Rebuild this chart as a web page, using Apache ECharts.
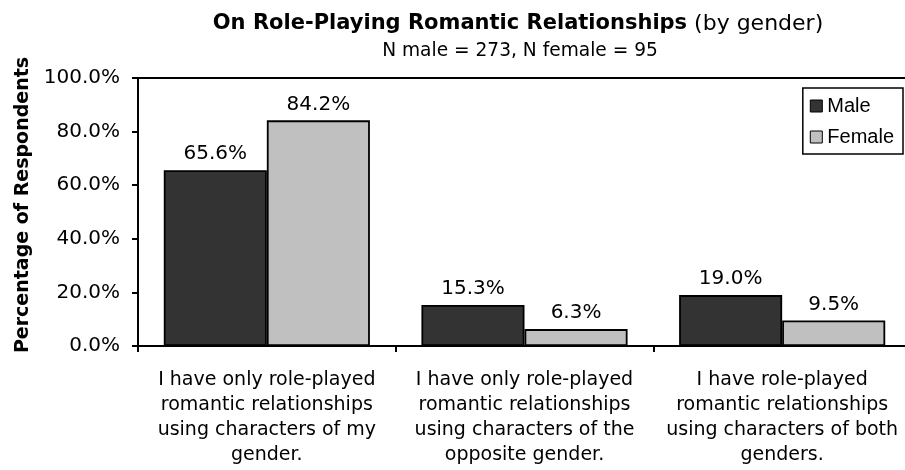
<!DOCTYPE html>
<html>
<head>
<meta charset="utf-8">
<script src="https://cdn.jsdelivr.net/npm/echarts@6/dist/echarts.min.js"></script>
<style>
  html, body { margin: 0; padding: 0; background: #fff; }
  #chart { width: 905px; height: 470px; }
</style>
</head>
<body>
<div id="chart"></div>
<script>
// Survey answers, grouped by gender
const categories = [
  'I have only role-played\nromantic relationships\nusing characters of my\ngender.',
  'I have only role-played\nromantic relationships\nusing characters of the\nopposite gender.',
  'I have role-played\nromantic relationships\nusing characters of both\ngenders.'
];
const maleValues = [65.6, 15.3, 19.0];
const femaleValues = [84.2, 6.3, 9.5];
const yTicks = [0, 20, 40, 60, 80, 100];

const pctFmt = v => Number(v).toFixed(1) + '%';
const sansFont = '"DejaVu Sans", Verdana, sans-serif';

const chart = echarts.init(document.getElementById('chart'), null, { renderer: 'canvas' });

const barLabel = {
  show: true,
  position: 'top',
  distance: 6,
  fontFamily: sansFont,
  fontSize: 20,
  color: '#000',
  formatter: p => pctFmt(p.value)
};

chart.setOption({
  animation: false,
  backgroundColor: '#fff',
  title: [
    {
      text: '{b|On Role-Playing Romantic Relationships}{n| (by gender)}',
      left: 513,
      top: 8,
      textAlign: 'center',
      textStyle: {
        rich: {
          b: { fontFamily: sansFont, fontWeight: 'bold', fontSize: 21, color: '#000' },
          n: { fontFamily: sansFont, fontWeight: 'normal', fontSize: 22, color: '#000' }
        }
      }
    },
    {
      text: 'N male = 273, N female = 95',
      left: 515,
      top: 37,
      textAlign: 'center',
      textStyle: { fontFamily: sansFont, fontWeight: 'normal', fontSize: 18.6, color: '#000' }
    }
  ],
  legend: {
    orient: 'vertical',
    right: 2,
    top: 88,
    data: ['Male', 'Female'],
    backgroundColor: '#fff',
    borderColor: '#000',
    borderWidth: 1.5,
    borderRadius: 0,
    padding: [7, 9, 6, 7],
    itemGap: 9,
    itemWidth: 12,
    itemHeight: 12,
    icon: 'rect',
    itemStyle: { borderColor: '#000', borderWidth: 1 },
    textStyle: { fontFamily: '"Liberation Sans", Arial, sans-serif', fontSize: 20, lineHeight: 22, color: '#000' }
  },
  // the plot runs a few pixels past the right edge of the canvas
  grid: { left: 138, width: 773, top: 78, bottom: 124, containLabel: false, outerBoundsMode: 'none' },
  xAxis: [
    {
      type: 'category',
      data: categories,
      position: 'bottom',
      axisLine: { show: true, lineStyle: { color: '#000', width: 2 } },
      axisTick: { show: true, inside: false, length: 6, lineStyle: { color: '#000', width: 2 } },
      axisLabel: {
        interval: 0,
        margin: 22,
        fontFamily: sansFont,
        fontSize: 19,
        lineHeight: 25,
        color: '#000',
        align: 'center'
      },
      splitLine: { show: false }
    },
    {
      // frame line along the top of the plot
      type: 'category',
      data: categories,
      position: 'top',
      axisLine: { show: true, lineStyle: { color: '#000', width: 2 } },
      axisTick: { show: false },
      axisLabel: { show: false },
      splitLine: { show: false }
    }
  ],
  yAxis: {
    type: 'value',
    min: yTicks[0],
    max: yTicks[yTicks.length - 1],
    interval: yTicks[1] - yTicks[0],
    name: 'Percentage of Respondents',
    nameLocation: 'middle',
    nameGap: 104,
    nameTextStyle: {
      fontFamily: sansFont,
      fontWeight: 'bold',
      fontSize: 19,
      color: '#000',
      padding: [0, 0, 0, 14]
    },
    axisLine: { show: true, lineStyle: { color: '#000', width: 2 } },
    axisTick: { show: true, inside: false, length: 6, lineStyle: { color: '#000', width: 2 } },
    axisLabel: {
      margin: 18,
      fontFamily: sansFont,
      fontSize: 20,
      color: '#000',
      formatter: pctFmt
    },
    splitLine: { show: false }
  },
  series: [
    {
      name: 'Male',
      type: 'bar',
      data: maleValues,
      barGap: '0%',
      barCategoryGap: '20%',
      itemStyle: { color: '#333333', borderColor: '#000', borderWidth: 1.8 },
      label: barLabel
    },
    {
      name: 'Female',
      type: 'bar',
      data: femaleValues,
      barGap: '0%',
      barCategoryGap: '20%',
      itemStyle: { color: '#c0c0c0', borderColor: '#000', borderWidth: 1.8 },
      label: barLabel
    }
  ]
});
</script>
</body>
</html>
